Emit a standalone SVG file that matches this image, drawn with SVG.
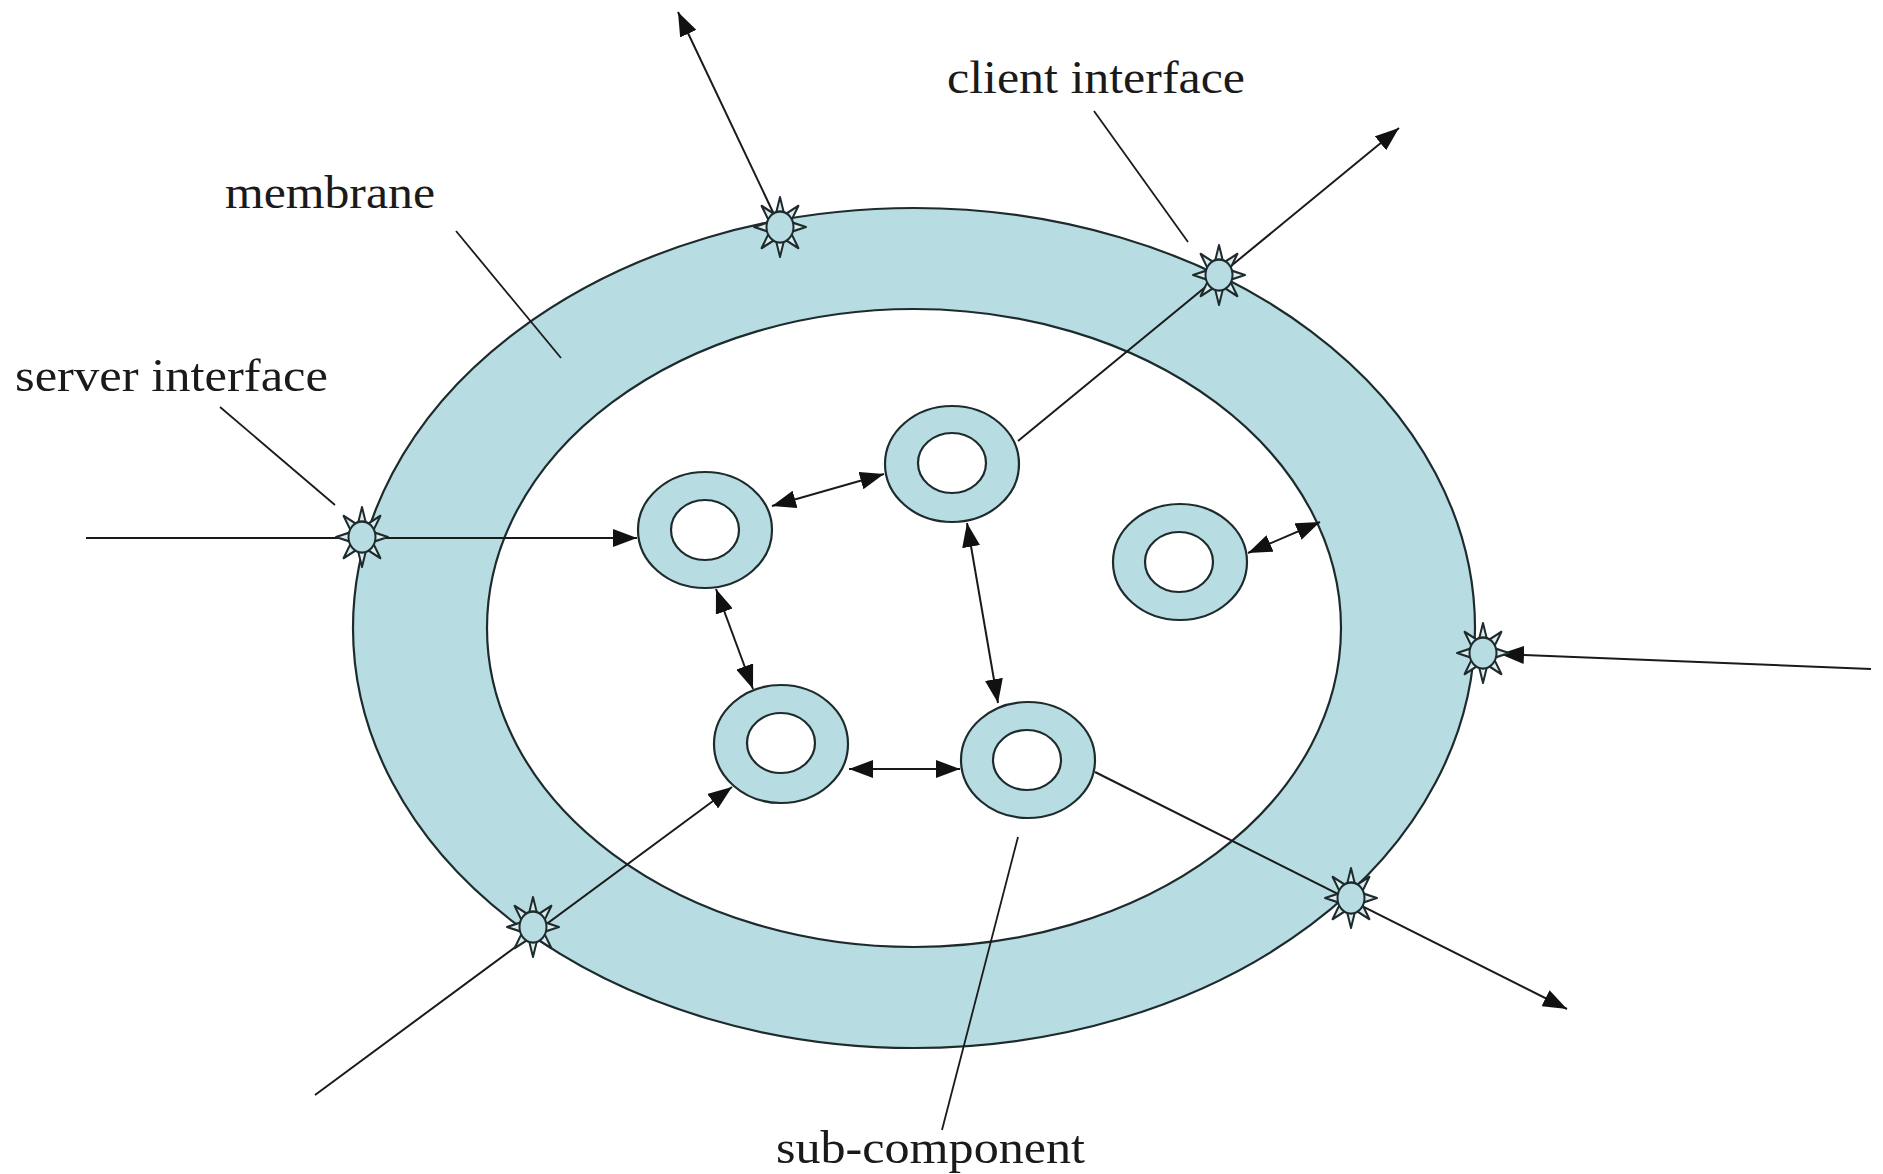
<svg xmlns="http://www.w3.org/2000/svg" width="1883" height="1174" viewBox="0 0 1883 1174">
  <style>
    .band { fill: #b7dde2; stroke: #1e2b2d; stroke-width: 2.2; }
    .hole { fill: #ffffff; stroke: #1e2b2d; stroke-width: 2.2; }
    .conn { stroke: #1a1a1a; stroke-width: 2; fill: none; }
    .lead { stroke: #1a1a1a; stroke-width: 1.8; fill: none; }
    .label { font-family: "Liberation Serif", "Times New Roman", serif; font-size: 46px; fill: #1a1a1a; }
    .spike { fill: #dcecee; stroke: #1e2b2d; stroke-width: 2; stroke-linejoin: round; }
  </style>
  <defs>
    <marker id="ah" viewBox="0 0 24 18" refX="24" refY="9" markerWidth="24" markerHeight="18" markerUnits="userSpaceOnUse" orient="auto-start-reverse">
      <path d="M0,0 L24,9 L0,18 z" fill="#111"/>
    </marker>
    <g id="iface">
      <g transform="scale(1,1.15)">
        <polygon class="spike" points="-4,-12 4,-12 0,-26"/>
        <polygon class="spike" points="-4,-12 4,-12 0,-26" transform="rotate(45)"/>
        <polygon class="spike" points="-4,-12 4,-12 0,-26" transform="rotate(90)"/>
        <polygon class="spike" points="-4,-12 4,-12 0,-26" transform="rotate(135)"/>
        <polygon class="spike" points="-4,-12 4,-12 0,-26" transform="rotate(180)"/>
        <polygon class="spike" points="-4,-12 4,-12 0,-26" transform="rotate(225)"/>
        <polygon class="spike" points="-4,-12 4,-12 0,-26" transform="rotate(270)"/>
        <polygon class="spike" points="-4,-12 4,-12 0,-26" transform="rotate(315)"/>
        <circle r="13.5" fill="#b7dde2" stroke="#1e2b2d" stroke-width="2"/>
      </g>
    </g>
  </defs>

  <rect width="1883" height="1174" fill="#ffffff"/>

  <g id="membrane">
    <ellipse class="band" cx="914" cy="628" rx="561" ry="420"/>
    <ellipse class="hole" cx="914" cy="628" rx="427" ry="319"/>
  </g>

  <g id="connectors">
    <line class="conn" x1="86" y1="538" x2="637" y2="538" marker-end="url(#ah)"/>
    <line class="conn" x1="780" y1="227" x2="678" y2="12" marker-end="url(#ah)"/>
    <line class="conn" x1="1018" y1="441" x2="1399" y2="128" marker-end="url(#ah)"/>
    <line class="conn" x1="1871" y1="669" x2="1500" y2="654" marker-end="url(#ah)"/>
    <line class="conn" x1="1095" y1="772" x2="1567" y2="1009" marker-end="url(#ah)"/>
    <line class="conn" x1="315" y1="1095" x2="732" y2="787" marker-end="url(#ah)"/>
    <line class="conn" x1="772" y1="506" x2="884" y2="474" marker-start="url(#ah)" marker-end="url(#ah)"/>
    <line class="conn" x1="716" y1="589" x2="753" y2="689" marker-start="url(#ah)" marker-end="url(#ah)"/>
    <line class="conn" x1="967" y1="523" x2="998" y2="703" marker-start="url(#ah)" marker-end="url(#ah)"/>
    <line class="conn" x1="849" y1="769" x2="960" y2="769" marker-start="url(#ah)" marker-end="url(#ah)"/>
    <line class="conn" x1="1248" y1="553" x2="1320" y2="522" marker-start="url(#ah)" marker-end="url(#ah)"/>
    <line class="lead" x1="456" y1="231" x2="561" y2="358"/>
    <line class="lead" x1="1094" y1="111" x2="1188" y2="242"/>
    <line class="lead" x1="220" y1="407" x2="335" y2="505"/>
    <line class="lead" x1="1018" y1="837" x2="942" y2="1130"/>
  </g>

  <g id="interfaces">
    <use id="if-top" href="#iface" x="780" y="227"/>
    <use id="if-client" href="#iface" x="1219" y="275"/>
    <use id="if-server" href="#iface" x="362" y="537"/>
    <use id="if-right" href="#iface" x="1483" y="653"/>
    <use id="if-bottom-right" href="#iface" x="1351" y="898"/>
    <use id="if-bottom-left" href="#iface" x="533" y="927"/>
  </g>

  <g id="sub1">
    <ellipse class="band" cx="705" cy="530" rx="67" ry="58"/>
    <ellipse class="hole" cx="705" cy="530" rx="34" ry="30"/>
  </g>
  <g id="sub2">
    <ellipse class="band" cx="952" cy="464" rx="67" ry="58"/>
    <ellipse class="hole" cx="952" cy="463" rx="34" ry="30"/>
  </g>
  <g id="sub3">
    <ellipse class="band" cx="1180" cy="562" rx="67" ry="58"/>
    <ellipse class="hole" cx="1179" cy="562" rx="34" ry="30"/>
  </g>
  <g id="sub4">
    <ellipse class="band" cx="781" cy="744" rx="67" ry="59"/>
    <ellipse class="hole" cx="781" cy="743" rx="34" ry="30"/>
  </g>
  <g id="sub5">
    <ellipse class="band" cx="1028" cy="760" rx="67" ry="58"/>
    <ellipse class="hole" cx="1027" cy="760" rx="34" ry="30"/>
  </g>

  <g id="labels">
    <text class="label" x="225" y="208" textLength="210" lengthAdjust="spacingAndGlyphs">membrane</text>
    <text class="label" x="947" y="93" textLength="298" lengthAdjust="spacingAndGlyphs">client interface</text>
    <text class="label" x="15" y="391" textLength="313" lengthAdjust="spacingAndGlyphs">server interface</text>
    <text class="label" x="776" y="1163" textLength="309" lengthAdjust="spacingAndGlyphs">sub-component</text>
  </g>
</svg>
